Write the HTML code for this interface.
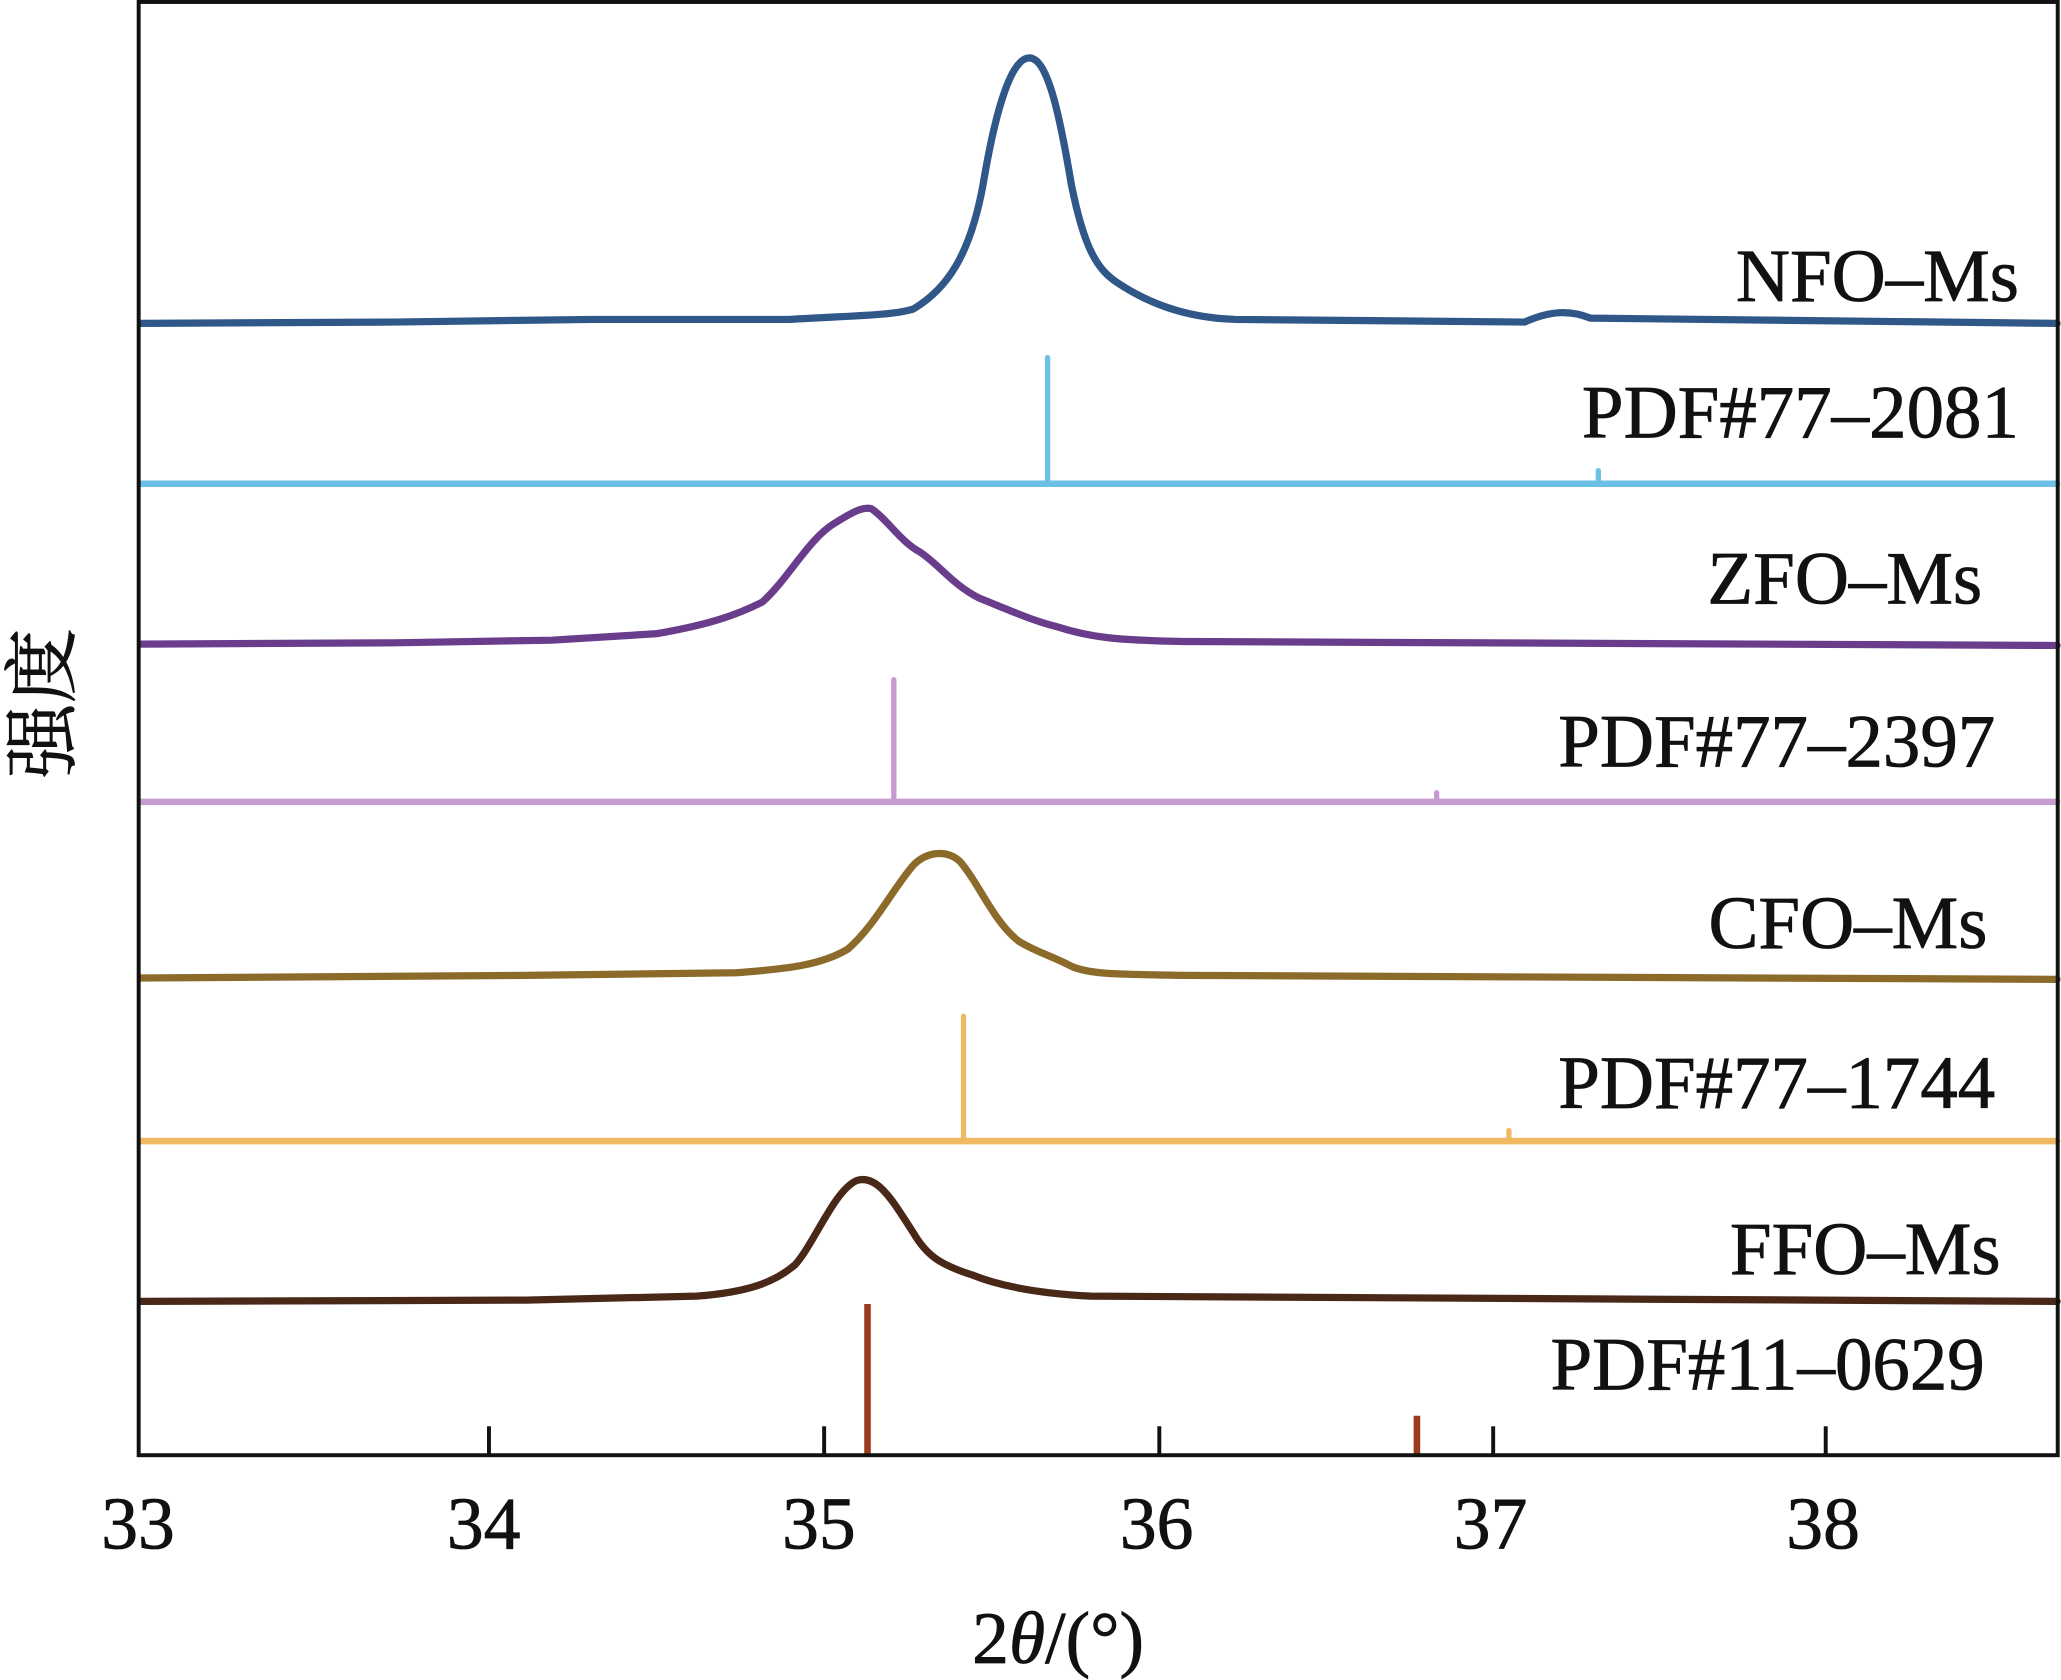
<!DOCTYPE html>
<html><head><meta charset="utf-8"><style>
html,body{margin:0;padding:0;background:#fff;}
svg{display:block;}
text{font-family:"Liberation Serif","Noto Serif CJK SC",serif;fill:#111;stroke:#111;stroke-width:0.6;}
</style></head><body>
<svg width="2061" height="1680" viewBox="0 0 1568 1278" preserveAspectRatio="none" xmlns="http://www.w3.org/2000/svg">
<rect width="1568" height="1278" fill="#fff"/>
<g fill="none" stroke-linejoin="round" stroke-linecap="round">
<path stroke="#2f5788" stroke-width="5.5" d="M107,246 L300,245 L450,243 L600,243 C650,240 680,240 695,235 C720,220 738,195 748,140 C758,80 770,44 783,44 C796,44 805,80 815,140 C825,190 835,205 850,215 C880,235 910,242 940,243 L1160,245 C1180,236 1195,236 1210,242 L1565,246"/>
<path stroke="#6cc0e5" stroke-width="5" d="M107,368 L1565,368"/>
<path stroke="#6cc0e5" stroke-width="4" d="M797,368 L797,272 M1216,368 L1216,358"/>
<path stroke="#6a3d8c" stroke-width="5.5" d="M107,490 L300,489 L420,487 L500,482 C540,475 560,468 580,458 C600,440 615,410 635,398 C645,392 655,385 663,387 C675,395 685,412 700,420 C715,430 725,445 745,455 C770,465 785,472 805,477 C830,485 850,487 900,488 L1565,491"/>
<path stroke="#c79ad0" stroke-width="5" d="M107,610 L1565,610"/>
<path stroke="#c79ad0" stroke-width="4" d="M680,610 L680,517 M1093,610 L1093,603"/>
<path stroke="#8c6a2a" stroke-width="5.5" d="M107,744 L400,742 L560,740 C600,737 625,734 645,722 C665,705 680,675 695,658 C705,648 720,646 730,655 C745,672 755,700 775,716 C790,725 800,727 815,735 C830,742 860,741 900,742 L1565,745"/>
<path stroke="#f0b860" stroke-width="5" d="M107,868 L1565,868"/>
<path stroke="#f0b860" stroke-width="4" d="M733,868 L733,773 M1148,868 L1148,860"/>
<path stroke="#4a2818" stroke-width="5.5" d="M107,990 L400,989 L530,986 C570,983 590,975 605,962 C620,945 635,905 652,898 C668,893 680,915 695,938 C705,955 715,962 740,970 C760,978 790,984 830,986 L1565,990"/>
<path stroke="#9a3a20" stroke-width="5" stroke-linecap="butt" d="M660,1107 L660,992 M1078,1107 L1078,1077"/>
</g>
<rect x="105.5" y="1.5" width="1460" height="1105.5" fill="none" stroke="#111" stroke-width="3"/>
<g stroke="#111" stroke-width="3">
<line x1="372" y1="1107" x2="372" y2="1085"/>
<line x1="627" y1="1107" x2="627" y2="1085"/>
<line x1="882" y1="1107" x2="882" y2="1085"/>
<line x1="1136" y1="1107" x2="1136" y2="1085"/>
<line x1="1389" y1="1107" x2="1389" y2="1085"/>
</g>
<g font-size="56" text-anchor="middle">
<text x="105" y="1178">33</text>
<text x="368" y="1178">34</text>
<text x="623" y="1178">35</text>
<text x="880" y="1178">36</text>
<text x="1134" y="1178">37</text>
<text x="1387" y="1178">38</text>
</g>
<text x="805" y="1265" font-size="56" text-anchor="middle">2<tspan font-style="italic">θ</tspan>/(°)</text>
<text transform="translate(52,535) rotate(-90)" font-size="57" text-anchor="middle">强度</text>
<g font-size="57" text-anchor="end">
<text x="1536" y="229">NFO–Ms</text>
<text x="1536" y="333">PDF#77–2081</text>
<text x="1508" y="459">ZFO–Ms</text>
<text x="1518" y="583">PDF#77–2397</text>
<text x="1512" y="721">CFO–Ms</text>
<text x="1518" y="843">PDF#77–1744</text>
<text x="1522" y="969">FFO–Ms</text>
<text x="1510" y="1057">PDF#11–0629</text>
</g>
</svg>
</body></html>
